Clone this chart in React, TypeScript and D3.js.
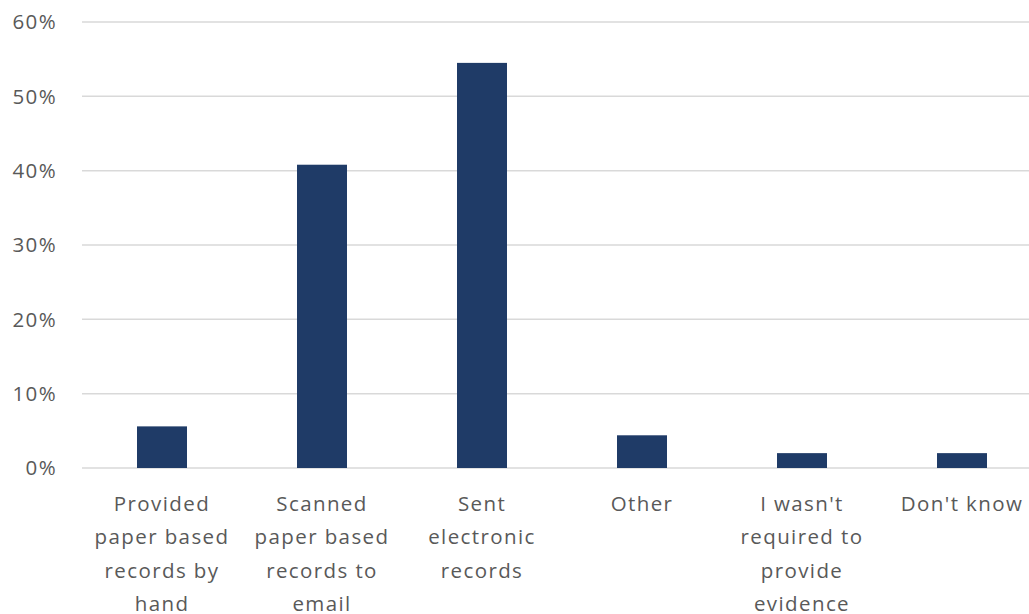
import React from "react";
import * as d3 from "d3";

const categories: string[][] = [
  ["Provided", "paper based", "records by", "hand"],
  ["Scanned", "paper based", "records to", "email"],
  ["Sent", "electronic", "records"],
  ["Other"],
  ["I wasn't", "required to", "provide", "evidence"],
  ["Don't know"],
];
const values: number[] = [0.056, 0.408, 0.545, 0.044, 0.02, 0.02];
const yTicks: number[] = [0, 0.1, 0.2, 0.3, 0.4, 0.5, 0.6];

const W = 1029;
const H = 614;
const FONT = "'Open Sans', sans-serif";
const TEXT = "#595959";

export default function App() {
  const idx = categories.map((_, i) => i);
  const x = d3.scaleBand<number>().domain(idx).range([82, 1042]).paddingInner(0.6875).paddingOuter(0.34375);
  const y = d3.scaleLinear().domain([0, 0.6]).range([468, 22]);
  const fmt = d3.format(".0%");
  const lineH = 33.3;

  return (
    <svg width={W} height={H} style={{ position: "absolute", left: 0, top: 0, background: "#fff" }}>
      {yTicks.map((t) => (
        <g key={t}>
          <line x1={82} x2={W} y1={y(t)} y2={y(t)} stroke="#d9d9d9" strokeWidth={1.5} />
          <text x={57} y={y(t)} dy="0.35em" textAnchor="end" fontFamily={FONT} fontSize={20.5} letterSpacing={1.4} fill={TEXT}>
            {fmt(t)}
          </text>
        </g>
      ))}
      {values.map((v, i) => (
        <rect key={i} x={x(i)} width={x.bandwidth()} y={y(v)} height={y(0) - y(v)} fill="#1f3b67" />
      ))}
      {categories.map((lines, i) => (
        <text key={i} textAnchor="middle" fontFamily={FONT} fontSize={20.5} letterSpacing={1.4} fill={TEXT}>
          {lines.map((l, j) => (
            <tspan key={j} x={(x(i) as number) + x.bandwidth() / 2} y={511 + j * lineH}>
              {l}
            </tspan>
          ))}
        </text>
      ))}
    </svg>
  );
}
